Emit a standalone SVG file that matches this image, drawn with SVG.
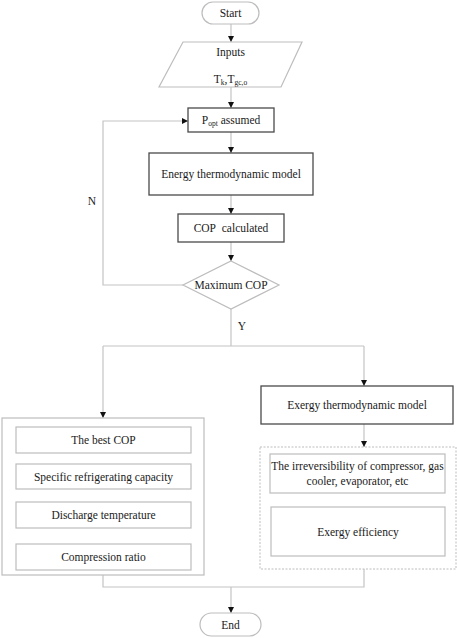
<svg xmlns="http://www.w3.org/2000/svg" width="457" height="638" viewBox="0 0 457 638">
<defs>
<marker id="ah" markerWidth="6" markerHeight="6" refX="6" refY="3" orient="auto" markerUnits="userSpaceOnUse">
<path d="M0,0 L6,3 L0,6 Z" fill="#111"/>
</marker>
<style>
text{font-family:"Liberation Serif","Times New Roman",serif;font-size:11.5px;fill:#1a1a1a;text-anchor:middle}
.ln{fill:none;stroke:#c4c4c4;stroke-width:1.2}
.lt{fill:#fff;stroke:#bdbdbd;stroke-width:1.2}
.dk{fill:#fff;stroke:#4a4a4a;stroke-width:1.3}
.dt{fill:#fff;stroke:#bdbdbd;stroke-width:1;stroke-dasharray:2 1.5}
.sub{font-size:7.5px}
</style>
</defs>
<rect width="457" height="638" fill="#fff"/>
<g id="connectors">
<path class="ln" d="M231,24 V42" marker-end="url(#ah)"/>
<path class="ln" d="M231,87 V108" marker-end="url(#ah)"/>
<path class="ln" d="M231,132 V153" marker-end="url(#ah)"/>
<path class="ln" d="M231,195 V214" marker-end="url(#ah)"/>
<path class="ln" d="M231,242 V261" marker-end="url(#ah)"/>
<path class="ln" d="M183,285 H103 V121 H188" marker-end="url(#ah)"/>
<path class="ln" d="M231,309 V346"/>
<path class="ln" d="M103,346 H364"/>
<path class="ln" d="M103,346 V418" marker-end="url(#ah)"/>
<path class="ln" d="M364,346 V386" marker-end="url(#ah)"/>
<path class="ln" d="M364,424 V447" marker-end="url(#ah)"/>
<path class="ln" d="M103,575 V587 H364 V569"/>
<path class="ln" d="M231,587 V613" marker-end="url(#ah)"/>
<text x="92" y="205">N</text>
<text x="242" y="330">Y</text>
</g>
<g id="start">
<rect class="lt" x="202" y="2" width="57" height="22" rx="11"/>
<text x="230.5" y="17">Start</text>
</g>
<g id="inputs">
<path class="lt" d="M183,42 H302 L281,87 H159 Z"/>
<text x="230.5" y="56">Inputs</text>
<text x="230.5" y="83">T<tspan class="sub" dy="2">k</tspan><tspan dy="-2">,T</tspan><tspan class="sub" dy="2">gc,o</tspan></text>
</g>
<g id="popt">
<rect class="dk" x="188" y="108" width="86" height="24"/>
<text x="231" y="124">P<tspan class="sub" dy="2">opt</tspan><tspan dy="-2"> assumed</tspan></text>
</g>
<g id="energy">
<rect class="dk" x="149" y="153" width="164" height="42"/>
<text x="231" y="178">Energy thermodynamic model</text>
</g>
<g id="cop">
<rect class="dk" x="178" y="214" width="106" height="28"/>
<text x="231" y="232">COP&#160; calculated</text>
</g>
<g id="maxcop">
<path class="lt" d="M231,261 L279,285 L231,309 L183,285 Z"/>
<text x="231" y="289">Maximum COP</text>
</g>
<g id="results">
<rect class="lt" x="2" y="418" width="202" height="157"/>
<rect class="lt" x="16" y="427" width="175" height="26"/>
<text x="103.5" y="444">The best COP</text>
<rect class="lt" x="16" y="464" width="175" height="25"/>
<text x="103.5" y="481">Specific refrigerating capacity</text>
<rect class="lt" x="16" y="502" width="175" height="26"/>
<text x="103.5" y="519">Discharge temperature</text>
<rect class="lt" x="16" y="544" width="175" height="26"/>
<text x="103.5" y="561">Compression ratio</text>
</g>
<g id="exergy">
<rect class="dk" x="261" y="386" width="192" height="38"/>
<text x="357" y="409">Exergy thermodynamic model</text>
</g>
<g id="exergyresults">
<rect class="dt" x="260" y="447" width="196" height="122"/>
<rect class="lt" x="270" y="454" width="175" height="39"/>
<text x="357.5" y="470">The irreversibility of compressor, gas</text>
<text x="357.5" y="485">cooler, evaporator, etc</text>
<rect class="lt" x="271" y="507" width="174" height="49"/>
<text x="358" y="536">Exergy efficiency</text>
</g>
<g id="end">
<rect class="lt" x="200" y="613" width="61" height="23" rx="11.5"/>
<text x="230.5" y="629">End</text>
</g>
</svg>
